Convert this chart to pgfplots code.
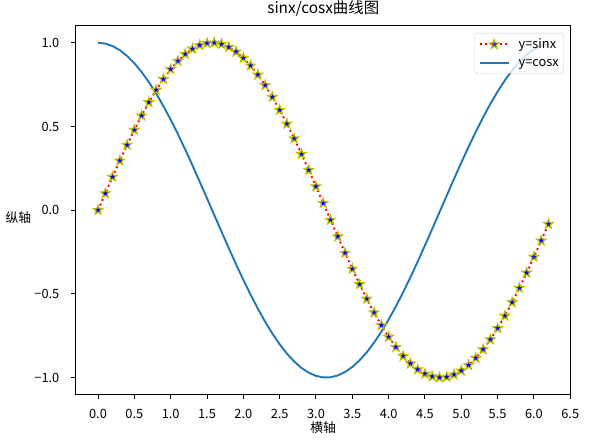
\documentclass[border=0pt]{standalone}
\usepackage{fontspec}
\setmainfont{Noto Sans CJK SC}
\usepackage{pgfplots}
\usepackage{pgfplotstable}
\pgfplotsset{compat=1.18}
\definecolor{mplblue}{HTML}{1F77B4}
\definecolor{mply}{rgb}{0.75,0.75,0}
\pgfdeclareplotmark{fstar}{%
  \pgfpathmoveto{\pgfqpointpolar{90}{\pgfplotmarksize}}%
  \pgfpathlineto{\pgfqpointpolar{126}{0.40\pgfplotmarksize}}%
  \pgfpathlineto{\pgfqpointpolar{162}{\pgfplotmarksize}}%
  \pgfpathlineto{\pgfqpointpolar{198}{0.40\pgfplotmarksize}}%
  \pgfpathlineto{\pgfqpointpolar{234}{\pgfplotmarksize}}%
  \pgfpathlineto{\pgfqpointpolar{270}{0.40\pgfplotmarksize}}%
  \pgfpathlineto{\pgfqpointpolar{306}{\pgfplotmarksize}}%
  \pgfpathlineto{\pgfqpointpolar{342}{0.40\pgfplotmarksize}}%
  \pgfpathlineto{\pgfqpointpolar{18}{\pgfplotmarksize}}%
  \pgfpathlineto{\pgfqpointpolar{54}{0.40\pgfplotmarksize}}%
  \pgfpathclose
  \pgfusepathqfillstroke}
\pgfplotstableread{
x s c
0.0 0.0000 1.0000
0.1 0.0998 0.9950
0.2 0.1987 0.9801
0.3 0.2955 0.9553
0.4 0.3894 0.9211
0.5 0.4794 0.8776
0.6 0.5646 0.8253
0.7 0.6442 0.7648
0.8 0.7174 0.6967
0.9 0.7833 0.6216
1.0 0.8415 0.5403
1.1 0.8912 0.4536
1.2 0.9320 0.3624
1.3 0.9636 0.2675
1.4 0.9854 0.1700
1.5 0.9975 0.0707
1.6 0.9996 -0.0292
1.7 0.9917 -0.1288
1.8 0.9738 -0.2272
1.9 0.9463 -0.3233
2.0 0.9093 -0.4161
2.1 0.8632 -0.5048
2.2 0.8085 -0.5885
2.3 0.7457 -0.6663
2.4 0.6755 -0.7374
2.5 0.5985 -0.8011
2.6 0.5155 -0.8569
2.7 0.4274 -0.9041
2.8 0.3350 -0.9422
2.9 0.2392 -0.9710
3.0 0.1411 -0.9900
3.1 0.0416 -0.9991
3.2 -0.0584 -0.9983
3.3 -0.1577 -0.9875
3.4 -0.2555 -0.9668
3.5 -0.3508 -0.9365
3.6 -0.4425 -0.8968
3.7 -0.5298 -0.8481
3.8 -0.6119 -0.7910
3.9 -0.6878 -0.7259
4.0 -0.7568 -0.6536
4.1 -0.8183 -0.5748
4.2 -0.8716 -0.4903
4.3 -0.9162 -0.4008
4.4 -0.9516 -0.3073
4.5 -0.9775 -0.2108
4.6 -0.9937 -0.1122
4.7 -0.9999 -0.0124
4.8 -0.9962 0.0875
4.9 -0.9825 0.1865
5.0 -0.9589 0.2837
5.1 -0.9258 0.3780
5.2 -0.8835 0.4685
5.3 -0.8323 0.5544
5.4 -0.7728 0.6347
5.5 -0.7055 0.7087
5.6 -0.6313 0.7756
5.7 -0.5507 0.8347
5.8 -0.4646 0.8855
5.9 -0.3739 0.9275
6.0 -0.2794 0.9602
6.1 -0.1822 0.9833
6.2 -0.0831 0.9965
}\datatable
\begin{document}
\begin{tikzpicture}
\useasboundingbox (-75.5pt,-47.7pt) rectangle (516.5pt,394.3pt);
\begin{axis}[
  at={(0pt,0pt)}, anchor=south west,
  scale only axis, width=495.5pt, height=368.3pt,
  xmin=-0.31, xmax=6.51, ymin=-1.1, ymax=1.1,
  axis line style={line width=1pt, black},
  tick align=outside, major tick length=4.5pt,
  every tick/.style={black, line width=1pt},
  xtick pos=left, ytick pos=left,
  xtick={0,0.5,1,1.5,2,2.5,3,3.5,4,4.5,5,5.5,6,6.5},
  xticklabels={0.0,0.5,1.0,1.5,2.0,2.5,3.0,3.5,4.0,4.5,5.0,5.5,6.0,6.5},
  ytick={-1,-0.5,0,0.5,1},
  yticklabels={−1.0,−0.5,0.0,0.5,1.0},
  tick label style={font=\fontsize{12.8}{15}\selectfont, inner sep=0pt},
  xticklabel style={anchor=base, yshift=-20pt},
  yticklabel style={anchor=east, xshift=-11.5pt},
  title={sinx/cosx曲线图},
  title style={at={(axis description cs:0.5,1)}, anchor=center, yshift=12pt, font=\fontsize{15.4}{18}\selectfont},
  xlabel={横轴},
  ylabel={纵轴},
  every axis x label/.style={at={(axis description cs:0.5,0)}, anchor=center, yshift=-33pt, font=\fontsize{12.8}{15}\selectfont},
  every axis y label/.style={at={(axis description cs:0,0.5)}, anchor=center, xshift=-57pt, yshift=-7pt, rotate=0, font=\fontsize{12.8}{15}\selectfont},
  legend style={at={(axis description cs:1,1)}, xshift=-7pt, yshift=-7pt, anchor=north east,
    draw=black!20, rounded corners=2.5pt, fill=white, fill opacity=0.8, text opacity=1,
    font=\fontsize{12.8}{15}\selectfont, inner xsep=4pt, inner ysep=4.5pt, row sep=7pt, column sep=8pt,
    nodes={inner sep=1pt}},
  legend cell align=left,
  legend image code/.code={
    \draw[#1, mark repeat=2, mark phase=2] plot coordinates {(0pt,0pt) (14.5pt,0pt) (29pt,0pt)};
  },
]
\addplot[red, line width=1.9pt, dash pattern=on 1.9pt off 3.2pt,
  mark=fstar, mark size=5pt, mark options={solid, fill=blue, draw=mply, line width=1.1pt}]
  table[x=x, y=s] {\datatable};
\addlegendentry{y=sinx}
\addplot[mplblue, line width=1.9pt] table[x=x, y=c] {\datatable};
\addlegendentry{y=cosx}
\end{axis}
\end{tikzpicture}
\end{document}
